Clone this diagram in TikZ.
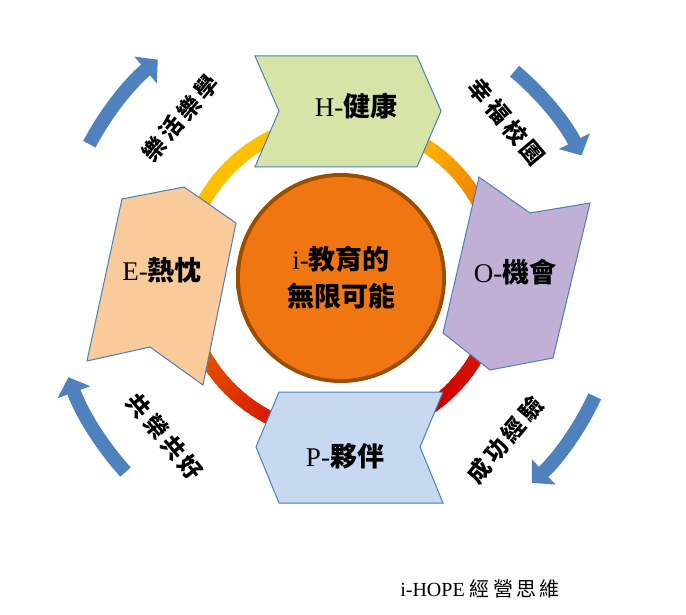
\documentclass[tikz,border=0pt]{standalone}
\usepackage{fontspec}
\setmainfont{Liberation Serif}
\newfontfamily\cjk{Noto Sans CJK TC}
\usetikzlibrary{arrows.meta, positioning, calc}
\definecolor{bluearrow}{HTML}{4F81BD}
\definecolor{edgeblue}{HTML}{4A7EBB}
\definecolor{ringtop}{HTML}{FFC000}
\definecolor{ringbot}{HTML}{D00000}
\tikzset{
    panel/.style = {draw=edgeblue, line width=1pt},
    label/.style = {font=\fontsize{27}{29}\selectfont, inner sep=0pt},
    motto/.style = {font=\fontsize{23}{24}\selectfont\cjk\bfseries, inner sep=0pt},
    turn/.style = {bluearrow, line width=14pt,
        -{Triangle[width=34pt, length=16pt]}},
}
\newcommand{\spaced}[4]{#1\hspace{4pt}#2\hspace{4pt}#3\hspace{4pt}#4}
\begin{document}
\begin{tikzpicture}[x=1pt, y=-1pt]
        \useasboundingbox (0,0) rectangle (686,615);
        \coordinate (mid) at (341,278);
        % ring, gold at top to red at bottom
        \foreach \a in {0,3,...,357} {
            \pgfmathsetmacro{\t}{int(max(0,min(100,45 + 55*sin(\a) + 20*cos(\a))))}
            \colorlet{ringc}{ringbot!\t!ringtop}
            \draw[ringc, line width=14pt] ($(mid)+(\a:157)$) arc[start angle=\a, end angle=\a+3.6, radius=157];
        }
        % centre disc
        \shade[inner color=orange!90!red, outer color=orange!60!black] (mid) circle[radius=105];
        \fill[color={rgb,255:red,240;green,118;blue,18}] (mid) circle[radius=101];
        \node (core) [label, align=center, font=\fontsize{27}{37}\selectfont] at (mid) {i-{\cjk\bfseries 教育的}\\{\cjk\bfseries 無限可能}};
        % four panels
        \fill[color={rgb,255:red,215;green,228;blue,168}] (255,56) -- (417,56) -- (441,111) -- (417,167) -- (255,167) -- (279,111) -- cycle;
        \draw[panel] (255,56) -- (417,56) -- (441,111) -- (417,167) -- (255,167) -- (279,111) -- cycle;
        \fill[color={rgb,255:red,250;green,203;blue,154}] (122,199) -- (184,187) -- (236,223) -- (203,385) -- (150,347) -- (87,361) -- cycle;
        \draw[panel] (122,199) -- (184,187) -- (236,223) -- (203,385) -- (150,347) -- (87,361) -- cycle;
        \fill[color={rgb,255:red,193;green,176;blue,214}] (479,177) -- (530,213) -- (590,203) -- (553,358) -- (490,370) -- (443,333) -- cycle;
        \draw[panel] (479,177) -- (530,213) -- (590,203) -- (553,358) -- (490,370) -- (443,333) -- cycle;
        \fill[color={rgb,255:red,198;green,217;blue,241}] (279,392) -- (443,392) -- (420,447) -- (443,503) -- (279,503) -- (256,447) -- cycle;
        \draw[panel] (279,392) -- (443,392) -- (420,447) -- (443,503) -- (279,503) -- (256,447) -- cycle;
        \node (h) [label] at (356,106) {H-{\cjk\bfseries 健康}};
        \node (e) [label] at (162,270) {E-{\cjk\bfseries 熱忱}};
        \node (o) [label] at (515,272) {O-{\cjk\bfseries 機會}};
        \node (p) [label] at (345,456) {P-{\cjk\bfseries 夥伴}};
        % mottos
        \node (joy) [motto, rotate=50] at (180,118) {\spaced{樂}{活}{樂}{學}};
        \node (happy) [motto, rotate=-50] at (507,122) {\spaced{幸}{福}{校}{園}};
        \node (win) [motto, rotate=50] at (505,440) {\spaced{成}{功}{經}{驗}};
        \node (share) [motto, rotate=-50] at (165,437) {\spaced{共}{榮}{共}{好}};
        % blue turning arrows
        \draw[turn] ($(mid)+(-152:285)$) arc[start angle=-152, end angle=-130, radius=285];
        \draw[turn] ($(mid)+(-50:270)$) arc[start angle=-50, end angle=-27, radius=270];
        \draw[turn] ($(mid)+(25:280)$) arc[start angle=25, end angle=47, radius=280];
        \draw[turn] ($(mid)+(138:290)$) arc[start angle=138, end angle=160, radius=290];
        \node (title) [font=\fontsize{20}{22}\selectfont] at (480,589) {i-HOPE {\cjk 經\,營\,思\,維}};
\end{tikzpicture}
\end{document}
